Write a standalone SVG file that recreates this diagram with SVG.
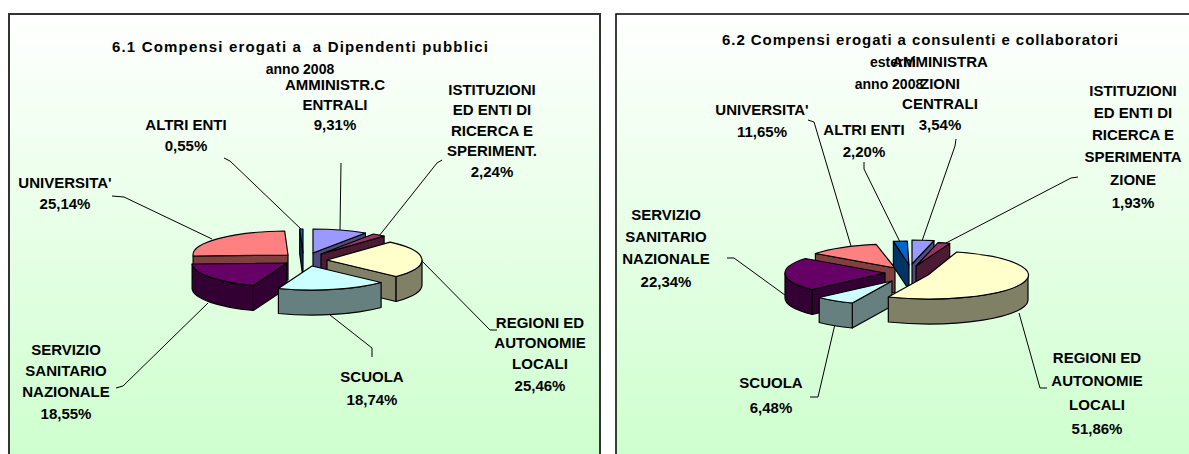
<svg xmlns="http://www.w3.org/2000/svg" width="1189" height="454" viewBox="0 0 1189 454">
<defs>
<linearGradient id="bg" x1="0" y1="0" x2="0" y2="1">
<stop offset="0" stop-color="#ffffff"/>
<stop offset="1" stop-color="#ccffcc"/>
</linearGradient>
<style>
.t{font-family:"Liberation Sans",Arial,sans-serif;font-weight:bold;font-size:14px;text-anchor:middle;fill:#000}
.l{font-size:15px}
.h{font-size:15px}
.e{stroke:#000;stroke-width:1.2;stroke-linejoin:round}
.ld{fill:none;stroke:#000;stroke-width:1}
.amm{fill:#9999ff}.amms{fill:#4d4d80}
.ist{fill:#993366}.ists{fill:#4d1a33}
.reg{fill:#ffffcc}.regs{fill:#808066}
.scu{fill:#ccffff}.scus{fill:#668080}
.ssn{fill:#660066}.ssns{fill:#330033}
.uni{fill:#ff8080}.unis{fill:#804040}
.alt{fill:#0066cc}.alts{fill:#003366}
</style>
</defs>
<rect width="1189" height="454" fill="#ffffff"/>
<rect id="panel1" x="9" y="14" width="591" height="460" fill="url(#bg)" stroke="#333" stroke-width="2"/>
<rect id="panel2" x="616" y="14" width="590" height="460" fill="url(#bg)" stroke="#000" stroke-width="1.5"/>

<g id="chart1-titles">
<text class="t h" x="300" y="52" xml:space="preserve" textLength="376" lengthAdjust="spacing">6.1 Compensi erogati a  a Dipendenti pubblici</text>
<text class="t" x="300" y="74">anno 2008</text>
</g>
<g id="chart2-titles">
<text class="t h" x="920" y="45" textLength="396" lengthAdjust="spacing">6.2 Compensi erogati a consulenti e collaboratori</text>
<text class="t" x="893" y="67">esterni</text>
<text class="t" x="889" y="89">anno 2008</text>
</g>

<g id="connectors">
<polyline class="ld" points="224,158 230,161 301,229"/>
<polyline class="ld" points="341,163 340,230"/>
<polyline class="ld" points="442,160 437,163 379,236"/>
<polyline class="ld" points="112,196 124,197 212,239"/>
<polyline class="ld" points="116,388 123,386 208,303"/>
<polyline class="ld" points="330,315 372,348 372,357"/>
<polyline class="ld" points="420,259 490,330 497,330"/>
<polyline class="ld" points="808,120 814,122 851,246"/>
<polyline class="ld" points="864,162 864,169 900,242"/>
<polyline class="ld" points="956,139 955,146 922,241"/>
<polyline class="ld" points="1078,177 1071,178 946,243"/>
<polyline class="ld" points="727,258 734,258 789,298"/>
<polyline class="ld" points="835,324 818,397 810,397"/>
<polyline class="ld" points="1019,313 1040,388 1047,388"/>
</g>

<g id="pie1">
<g id="p1-altri">
<path class="e alts" d="M303,253 L299.7,229 L299.7,254 L303,278 Z"/>
<path class="e alt" d="M303,253 L299.7,229 A95,24 0 0 1 303,229 Z"/>
</g>
<g id="p1-amm">
<path class="e amms" d="M313,253 L365.4,233 L365.4,258 L313,278 Z"/>
<path class="e amm" d="M313,253 L313,229 A95,24 0 0 1 365.4,233 Z"/>
</g>
<g id="p1-ist">
<path class="e ists" d="M321,254 L384.1,236.1 L384.1,261.1 L321,279 Z"/>
<path class="e ist" d="M321,254 L373.4,234 A95,24 0 0 1 384.1,236.1 Z"/>
</g>
<g id="p1-uni">
<path class="e unis" d="M288,255 L193.1,256 L193.1,281 L288,280 Z"/>
<path class="e uni" d="M288,255 L193.1,256 A95,24 0 0 1 284.7,231 Z"/>
</g>
<g id="p1-reg">
<path class="e regs" d="M327,260 L396.1,276.5 L396.1,301.5 L327,285 Z"/>
<path class="e regs" d="M422,260 A95,24 0 0 1 396.1,276.5 L396.1,301.5 A95,24 0 0 0 422,285 Z"/>
<path class="e reg" d="M327,260 L390.1,242.1 A95,24 0 0 1 396.1,276.5 Z"/>
</g>
<g id="p1-ssn">
<path class="e ssns" d="M287,263 L253.4,285.5 L253.4,310.5 L287,288 Z"/>
<path class="e ssns" d="M253.4,285.5 A95,24 0 0 1 192.1,264 L192.1,289 A95,24 0 0 0 253.4,310.5 Z"/>
<path class="e ssn" d="M287,263 L253.4,285.5 A95,24 0 0 1 192.1,264 Z"/>
</g>
<g id="p1-scu">
<path class="e scus" d="M381.1,282.5 A95,24 0 0 1 278.4,288.5 L278.4,313.5 A95,24 0 0 0 381.1,307.5 Z"/>
<path class="e scu" d="M312,266 L381.1,282.5 A95,24 0 0 1 278.4,288.5 Z"/>
</g>
</g>

<g id="pie2">
<g id="p2-uni">
<path class="e unis" d="M895,268 L815.4,253.5 L815.4,278.5 L895,293 Z"/>
<path class="e uni" d="M895,268 L815.4,253.5 A100,24 0 0 1 876.1,244.4 Z"/>
</g>
<g id="p2-altri">
<path class="e alts" d="M909,265 L893.4,241.3 L893.4,266.3 L909,290 Z"/>
<path class="e alt" d="M909,265 L893.4,241.3 A100,24 0 0 1 907.3,241 Z"/>
</g>
<g id="p2-amm">
<path class="e amms" d="M912,264 L934,240.6 L934,265.6 L912,289 Z"/>
<path class="e amm" d="M912,264 L912,240 A100,24 0 0 1 934,240.6 Z"/>
</g>
<g id="p2-ist">
<path class="e ists" d="M916,266 L949.7,243.4 L949.7,268.4 L916,291 Z"/>
<path class="e ist" d="M916,266 L938,242.6 A100,24 0 0 1 949.7,243.4 Z"/>
</g>
<g id="p2-ssn">
<path class="e ssns" d="M885,273 L812.2,289.5 L812.2,314.5 L885,298 Z"/>
<path class="e ssns" d="M812.2,289.5 A100,24 0 0 1 785,273 L785,298 A100,24 0 0 0 812.2,314.5 Z"/>
<path class="e ssn" d="M885,273 L812.2,289.5 A100,24 0 0 1 805.4,258.5 Z"/>
</g>
<g id="p2-scu">
<path class="e scus" d="M892,281 L852.3,303 L852.3,328 L892,306 Z"/>
<path class="e scus" d="M852.3,303 A100,24 0 0 1 819.2,297.5 L819.2,322.5 A100,24 0 0 0 852.3,328 Z"/>
<path class="e scu" d="M892,281 L852.3,303 A100,24 0 0 1 819.2,297.5 Z"/>
</g>
<g id="p2-reg">
<path class="e regs" d="M1028,275 A100,24 0 0 1 888.3,297 L888.3,322 A100,24 0 0 0 1028,300 Z"/>
<path class="e reg" d="M928,275 L956.7,252 A100,24 0 1 1 888.3,297 Z"/>
</g>
</g>

<g id="labels1">
<g id="l1-amm"><text class="t l" x="335" y="90">AMMINISTR.C</text><text class="t l" x="335" y="110">ENTRALI</text><text class="t l" x="335" y="130">9,31%</text></g>
<g id="l1-ist"><text class="t l" x="492" y="95">ISTITUZIONI</text><text class="t l" x="492" y="115">ED ENTI DI</text><text class="t l" x="492" y="136">RICERCA E</text><text class="t l" x="492" y="156">SPERIMENT.</text><text class="t l" x="492" y="177">2,24%</text></g>
<g id="l1-altri"><text class="t l" x="186" y="130">ALTRI ENTI</text><text class="t l" x="186" y="151">0,55%</text></g>
<g id="l1-uni"><text class="t l" x="65" y="188">UNIVERSITA'</text><text class="t l" x="65" y="209">25,14%</text></g>
<g id="l1-ssn"><text class="t l" x="66" y="355">SERVIZIO</text><text class="t l" x="66" y="376">SANITARIO</text><text class="t l" x="66" y="397">NAZIONALE</text><text class="t l" x="66" y="419">18,55%</text></g>
<g id="l1-scu"><text class="t l" x="372" y="382">SCUOLA</text><text class="t l" x="372" y="405">18,74%</text></g>
<g id="l1-reg"><text class="t l" x="540" y="328">REGIONI ED</text><text class="t l" x="540" y="348">AUTONOMIE</text><text class="t l" x="540" y="369">LOCALI</text><text class="t l" x="540" y="391">25,46%</text></g>
</g>

<g id="labels2">
<g id="l2-uni"><text class="t l" x="762" y="115">UNIVERSITA'</text><text class="t l" x="762" y="137">11,65%</text></g>
<g id="l2-altri"><text class="t l" x="864" y="135">ALTRI ENTI</text><text class="t l" x="864" y="157">2,20%</text></g>
<g id="l2-amm"><text class="t l" x="940" y="67">AMMINISTRA</text><text class="t l" x="940" y="89">ZIONI</text><text class="t l" x="940" y="109">CENTRALI</text><text class="t l" x="940" y="130">3,54%</text></g>
<g id="l2-ist"><text class="t l" x="1133" y="96">ISTITUZIONI</text><text class="t l" x="1133" y="118">ED ENTI DI</text><text class="t l" x="1133" y="140">RICERCA E</text><text class="t l" x="1133" y="162">SPERIMENTA</text><text class="t l" x="1133" y="185">ZIONE</text><text class="t l" x="1133" y="208">1,93%</text></g>
<g id="l2-ssn"><text class="t l" x="666" y="220">SERVIZIO</text><text class="t l" x="666" y="242">SANITARIO</text><text class="t l" x="666" y="264">NAZIONALE</text><text class="t l" x="666" y="287">22,34%</text></g>
<g id="l2-scu"><text class="t l" x="771" y="388">SCUOLA</text><text class="t l" x="771" y="413">6,48%</text></g>
<g id="l2-reg"><text class="t l" x="1097" y="363">REGIONI ED</text><text class="t l" x="1097" y="386">AUTONOMIE</text><text class="t l" x="1097" y="410">LOCALI</text><text class="t l" x="1097" y="434">51,86%</text></g>
</g>
</svg>
